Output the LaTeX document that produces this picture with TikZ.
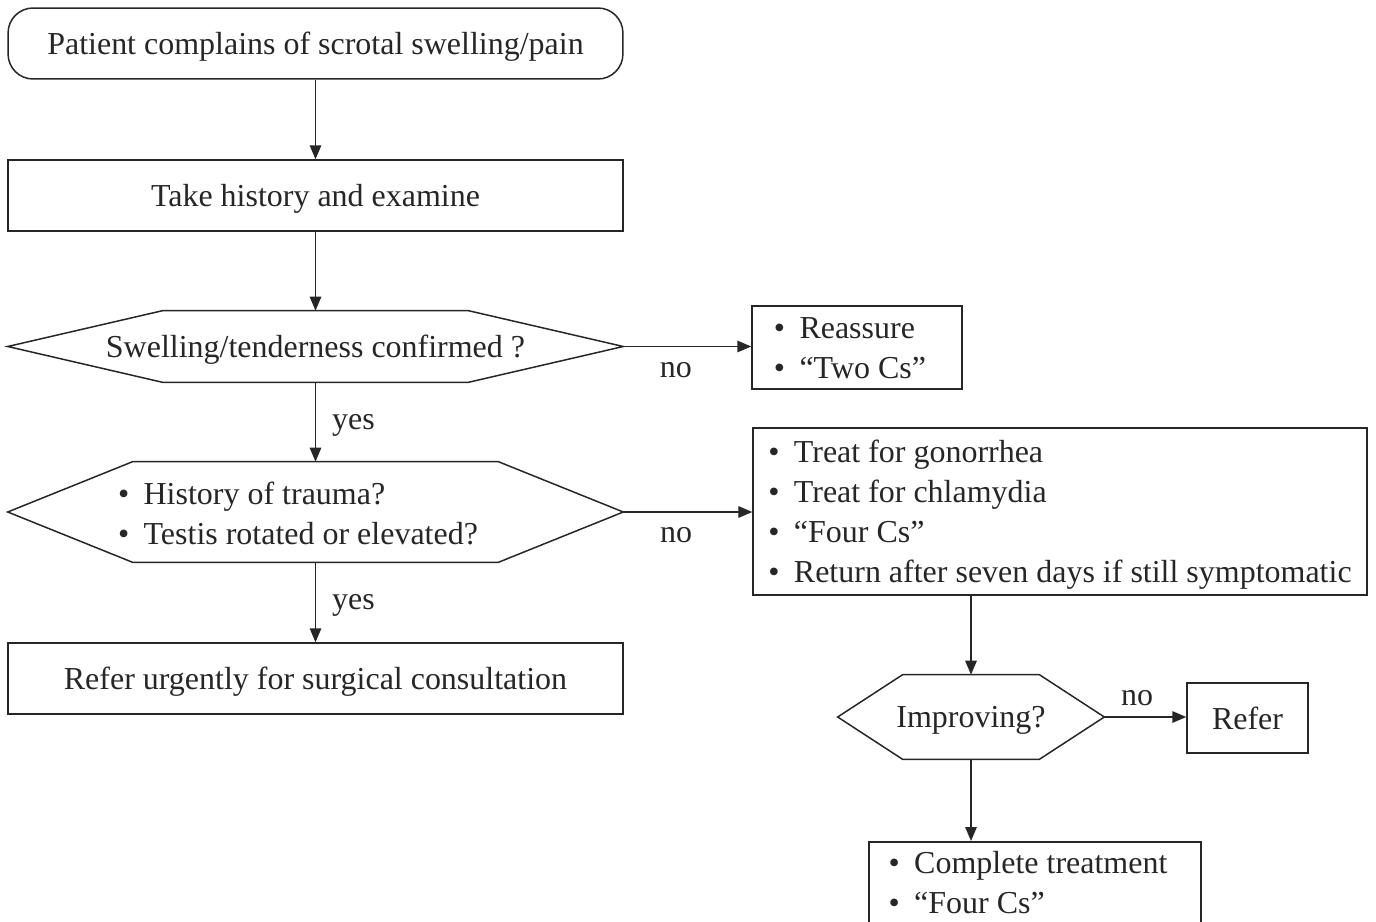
\documentclass[tikz,border=0pt]{standalone}
\usepackage{fontspec}
\setmainfont{Liberation Serif}
\usetikzlibrary{arrows.meta}

\newcommand{\bl}{\textbullet\hspace{0.45em}}
% hexagonal decision outline drawn around an (undrawn) node
\newcommand{\hexdraw}[2]{%
  \draw[line] (#1.west) -- ([xshift=#2]#1.north west) -- ([xshift=-#2]#1.north east)
    -- (#1.east) -- ([xshift=-#2]#1.south east) -- ([xshift=#2]#1.south west) -- cycle;}

\tikzset{
  line/.style={line width=0.85pt, draw=black!85},
  txt/.style={font=\fontsize{18.2}{22.8}\selectfont, text=black!85, inner sep=0pt, text depth=0pt},
  box/.style={txt, line, draw, rectangle, align=left},
  wide/.style={minimum width=12.3cm, minimum height=1.42cm},
  hexnode/.style={txt, minimum width=12.3cm, align=left},
  arr/.style={line, -{Triangle[length=0.28cm,width=0.23cm]}},
  lbl/.style={txt}
}

\begin{document}
\begin{tikzpicture}[x=0.02cm, y=-0.02cm]
\useasboundingbox (0,0) rectangle (1376,922);
\clip (0,0) rectangle (1376,922);

% left column
\node[box, wide, rounded corners=0.5cm, align=center] (start) at (315.5,43.5)
  {Patient complains of scrotal swelling/pain};
\node[box, wide, align=center] (hist) at (315.5,195.5) {Take history and examine};
\node[hexnode, minimum height=1.42cm, align=center] (q1) at (315.5,346.5)
  {Swelling/tenderness confirmed ?};
\hexdraw{q1}{3.1cm}
\node[hexnode, minimum height=2.0cm] (q2) at (315.5,512) {};
\hexdraw{q2}{2.5cm}
\node[txt, align=left] (q2t) at (298,513)
  {\bl History of trauma?\\ \bl Testis rotated or elevated?};
\node[box, wide, align=center] (urgent) at (315.5,678.5)
  {Refer urgently for surgical consultation};

% right column
\node[box, minimum width=4.2cm, minimum height=1.66cm] (reass) at (857,347.5) {};
\node[txt, align=left] (reasst) at (850,348) {\bl Reassure\\ \bl ``Two Cs''};
\node[box, minimum width=12.28cm, minimum height=3.34cm] (treat) at (1060,511.5)
  {\bl Treat for gonorrhea\\ \bl Treat for chlamydia\\ \bl ``Four Cs''\\
   \bl Return after seven days if still symptomatic};
\node[hexnode, minimum width=5.32cm, minimum height=1.68cm, align=center] (q3) at (971,717)
  {Improving?};
\hexdraw{q3}{1.3cm}
\node[box, minimum width=2.42cm, minimum height=1.4cm, align=center] (refer) at (1247.5,718)
  {Refer};
\node[box, anchor=north, minimum width=6.64cm, minimum height=2.0cm] (done) at (1035,841) {};
\node[txt, align=left] (donet) at (1028,882.5) {\bl Complete treatment\\ \bl ``Four Cs''};

% connectors
\draw[arr] (start) -- (hist);
\draw[arr] (hist) -- (q1);
\draw[arr] (q1) -- node[lbl, pos=0.5, right=0.32cm] {yes} (q2);
\draw[arr] (q2) -- node[lbl, pos=0.5, right=0.32cm] {yes} (urgent);
\draw[arr] (q1.east) -- node[lbl, pos=0.41, below=0.3cm] {no} (reass.west |- q1.east);
\draw[arr] (q2.east) -- node[lbl, pos=0.41, below=0.3cm] {no} (treat.west |- q2.east);
\draw[arr] (treat.south -| q3.north) -- (q3.north);
\draw[arr] (q3.east) -- node[lbl, pos=0.4, above=0.22cm] {no} (refer.west |- q3.east);
\draw[arr] (q3.south) -- (q3.south |- done.north);
\end{tikzpicture}
\end{document}
